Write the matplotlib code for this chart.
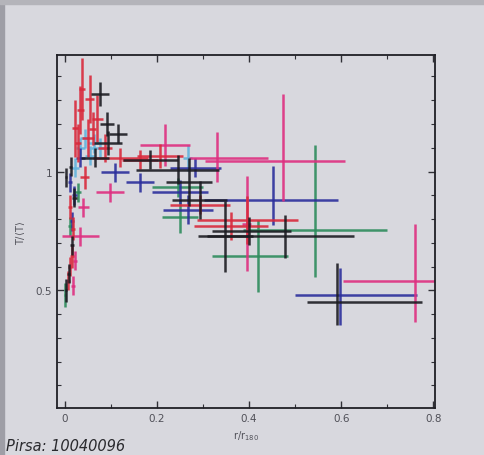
import matplotlib
matplotlib.use("Agg")
import matplotlib.pyplot as plt
from matplotlib.patches import Rectangle
from matplotlib.ticker import MultipleLocator

# Each row: (x, y, x_err_low, x_err_high, y_err_low, y_err_high)
red = [
    (0.037, 1.347, 0.006, 0.006, 0.13, 0.13),
    (0.054, 1.306, 0.010, 0.010, 0.10, 0.10),
    (0.070, 1.223, 0.012, 0.012, 0.10, 0.10),
    (0.022, 1.182, 0.006, 0.006, 0.12, 0.12),
    (0.050, 1.140, 0.012, 0.012, 0.08, 0.08),
    (0.087, 1.100, 0.015, 0.015, 0.06, 0.06),
    (0.120, 1.058, 0.060, 0.060, 0.04, 0.04),
    (0.206, 1.066, 0.050, 0.050, 0.05, 0.05),
    (0.396, 0.797, 0.110, 0.110, 0.10, 0.10),
    (0.011, 0.851, 0.004, 0.004, 0.05, 0.05),
    (0.015, 0.645, 0.004, 0.004, 0.05, 0.05),
    (0.043, 0.975, 0.010, 0.010, 0.05, 0.05),
    (0.293, 0.860, 0.065, 0.065, 0.04, 0.04),
    (0.163, 1.050, 0.040, 0.040, 0.04, 0.04),
    (0.360, 0.770, 0.080, 0.080, 0.06, 0.06),
    (0.007, 0.540, 0.003, 0.003, 0.04, 0.04),
    (0.033, 1.260, 0.008, 0.008, 0.10, 0.10),
    (0.028, 1.120, 0.006, 0.006, 0.08, 0.08),
    (0.060, 1.180, 0.008, 0.008, 0.07, 0.07),
    (0.018, 0.760, 0.004, 0.004, 0.05, 0.05),
    (0.010, 0.600, 0.003, 0.003, 0.04, 0.04),
]
black = [
    (0.076, 1.326, 0.020, 0.020, 0.05, 0.05),
    (0.091, 1.200, 0.015, 0.015, 0.05, 0.05),
    (0.093, 1.120, 0.030, 0.030, 0.05, 0.05),
    (0.065, 1.058, 0.030, 0.030, 0.04, 0.04),
    (0.002, 0.975, 0.002, 0.002, 0.04, 0.04),
    (0.003, 0.500, 0.002, 0.002, 0.05, 0.05),
    (0.185, 1.050, 0.060, 0.060, 0.04, 0.04),
    (0.245, 1.008, 0.090, 0.090, 0.06, 0.06),
    (0.293, 0.880, 0.060, 0.060, 0.08, 0.08),
    (0.348, 0.727, 0.060, 0.060, 0.15, 0.15),
    (0.478, 0.727, 0.170, 0.150, 0.09, 0.09),
    (0.591, 0.450, 0.065, 0.185, 0.095, 0.165),
    (0.400, 0.750, 0.080, 0.090, 0.06, 0.06),
    (0.020, 0.890, 0.005, 0.005, 0.04, 0.04),
    (0.015, 0.690, 0.004, 0.004, 0.04, 0.04),
    (0.270, 0.955, 0.050, 0.050, 0.10, 0.10),
    (0.115, 1.160, 0.020, 0.020, 0.04, 0.04),
    (0.012, 1.020, 0.004, 0.004, 0.04, 0.04),
    (0.008, 0.570, 0.003, 0.003, 0.04, 0.04),
]
blue = [
    (0.598, 0.479, 0.098, 0.167, 0.124, 0.116),
    (0.452, 0.880, 0.150, 0.141, 0.103, 0.145),
    (0.011, 0.955, 0.004, 0.004, 0.04, 0.04),
    (0.033, 1.058, 0.010, 0.010, 0.04, 0.04),
    (0.250, 0.913, 0.060, 0.060, 0.05, 0.05),
    (0.267, 0.840, 0.055, 0.055, 0.06, 0.06),
    (0.283, 1.017, 0.055, 0.055, 0.04, 0.04),
    (0.015, 0.790, 0.004, 0.004, 0.04, 0.04),
    (0.109, 0.996, 0.030, 0.030, 0.04, 0.04),
    (0.163, 0.955, 0.030, 0.030, 0.04, 0.04),
    (0.020, 0.900, 0.005, 0.005, 0.04, 0.04),
]
cyan = [
    (0.033, 1.100, 0.010, 0.010, 0.04, 0.04),
    (0.054, 1.066, 0.010, 0.010, 0.04, 0.04),
    (0.022, 1.017, 0.008, 0.008, 0.04, 0.04),
    (0.267, 1.058, 0.010, 0.010, 0.055, 0.055),
    (0.076, 1.100, 0.020, 0.020, 0.04, 0.04),
    (0.043, 1.140, 0.010, 0.010, 0.04, 0.04),
    (0.062, 1.120, 0.012, 0.012, 0.04, 0.04),
]
green = [
    (0.543, 0.756, 0.157, 0.157, 0.200, 0.355),
    (0.420, 0.645, 0.100, 0.065, 0.15, 0.15),
    (0.000, 0.480, 0.002, 0.002, 0.05, 0.05),
    (0.011, 0.770, 0.004, 0.004, 0.04, 0.04),
    (0.250, 0.810, 0.040, 0.040, 0.07, 0.07),
    (0.245, 0.934, 0.055, 0.055, 0.04, 0.04),
    (0.028, 0.913, 0.006, 0.006, 0.04, 0.04),
]
magenta = [
    (0.474, 1.045, 0.170, 0.135, 0.17, 0.28),
    (0.761, 0.541, 0.157, 0.060, 0.174, 0.24),
    (0.217, 1.112, 0.054, 0.054, 0.09, 0.09),
    (0.330, 1.058, 0.060, 0.110, 0.10, 0.11),
    (0.017, 0.520, 0.004, 0.004, 0.04, 0.04),
    (0.033, 0.727, 0.040, 0.040, 0.04, 0.04),
    (0.098, 0.913, 0.030, 0.030, 0.04, 0.04),
    (0.022, 0.624, 0.005, 0.005, 0.04, 0.04),
    (0.395, 0.780, 0.010, 0.010, 0.20, 0.20),
    (0.040, 0.850, 0.012, 0.012, 0.04, 0.04),
]

series = [
    (cyan, "#62b4dc"),
    (green, "#2e8c5c"),
    (blue, "#2c2f9c"),
    (magenta, "#de2f80"),
    (red, "#d82a3c"),
    (black, "#1c1c22"),
]

bg = "#d8d8de"
fig = plt.figure(figsize=(4.85, 4.56), dpi=100, facecolor=bg)
fig.patches.append(Rectangle((0, 0), 0.009, 1, transform=fig.transFigure,
                             color="#9e9ea6", zorder=0))
fig.patches.append(Rectangle((0, 0.988), 1, 0.012, transform=fig.transFigure,
                             color="#b4b4ba", zorder=0))

ax = fig.add_axes([0.1175, 0.103, 0.7795, 0.774])
ax.set_facecolor(bg)

for rows, col in series:
    xs = [r[0] for r in rows]
    ys = [r[1] for r in rows]
    xerr = [[r[2] for r in rows], [r[3] for r in rows]]
    yerr = [[r[4] for r in rows], [r[5] for r in rows]]
    ax.errorbar(xs, ys, xerr=xerr, yerr=yerr, fmt="none", ecolor=col,
                elinewidth=1.8, capsize=0, alpha=0.9)

ax.set_xlim(-0.0174, 0.804)
ax.set_ylim(0.005, 1.49)
ax.xaxis.set_major_locator(MultipleLocator(0.2))
ax.xaxis.set_minor_locator(MultipleLocator(0.1))
ax.yaxis.set_major_locator(MultipleLocator(0.5))
ax.yaxis.set_minor_locator(MultipleLocator(0.1))
ax.set_xticks([0, 0.2, 0.4, 0.6, 0.8])
ax.set_xticklabels(["0", "0.2", "0.4", "0.6", "0.8"])
ax.set_yticks([0.5, 1.0])
ax.set_yticklabels(["0.5", "1"])
ax.tick_params(which="both", direction="in", top=True, right=True,
               colors="#303036", labelcolor="#505058", labelsize=7.5)
ax.tick_params(which="major", length=5, width=1)
ax.tick_params(which="minor", length=3, width=0.8)
for s in ax.spines.values():
    s.set_color("#202026")
    s.set_linewidth(1.3)

ax.set_xlabel(r"r/r$_{180}$", fontsize=7, color="#505058", labelpad=4)
ax.set_ylabel(r"T/$\langle$T$\rangle$", fontsize=7, color="#505058", labelpad=6)

fig.text(0.012, 0.004, "Pirsa: 10040096", fontsize=10.5, style="italic",
         color="#2a2a2e", ha="left", va="bottom")

fig.savefig("out.png", dpi=100, facecolor=bg)
